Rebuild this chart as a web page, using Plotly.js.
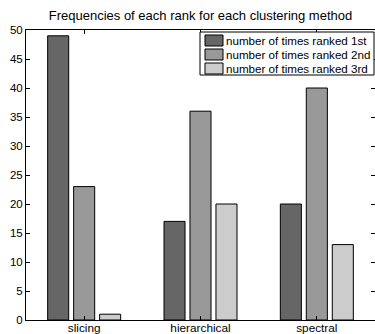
<!DOCTYPE html>
<html>
<head>
<meta charset="utf-8">
<script src="https://cdn.plot.ly/plotly-3.0.1.min.js"></script>
<style>
html,body{margin:0;padding:0;background:#fff;overflow:hidden;}
#chart{width:375px;height:334px;}
</style>
</head>
<body>
<div id="chart"></div>
<script>
const categories = ["slicing", "hierarchical", "spectral"];
const seriesNames = ["number of times ranked 1st", "number of times ranked 2nd", "number of times ranked 3rd"];
const rank1st = [49, 17, 20];
const rank2nd = [23, 36, 40];
const rank3rd = [1, 20, 13];
const seriesValues = [rank1st, rank2nd, rank3rd];
const seriesColors = ["#666666", "#999999", "#cccccc"];
const yTicks = [0, 5, 10, 15, 20, 25, 30, 35, 40, 45, 50];

const FONT = "Liberation Sans, Arial, Helvetica, sans-serif";

const traces = seriesValues.map((vals, i) => ({
  type: "bar",
  x: categories,
  y: vals,
  name: seriesNames[i],
  marker: {color: seriesColors[i], line: {color: "#000", width: 1}},
  showlegend: false,
  hoverinfo: "skip"
}));

// Plot area geometry (pixels) for custom legend placement
const L = 26, R = 375, T = 30, B = 320;
const W = R - L, H = B - T;
const px = v => (v - L) / W;
const py = v => (B - v) / H;

const shapes = [{
  type: "rect", xref: "paper", yref: "paper",
  x0: px(200), x1: px(374), y0: py(75), y1: py(32),
  fillcolor: "#fff", line: {color: "#000", width: 1}, layer: "above"
}];
const annotations = [];
const rowCenters = [40.5, 54.5, 68.5];
seriesNames.forEach((n, i) => {
  shapes.push({
    type: "rect", xref: "paper", yref: "paper",
    x0: px(205), x1: px(223), y0: py(rowCenters[i] + 5.5), y1: py(rowCenters[i] - 5.5),
    fillcolor: seriesColors[i], line: {color: "#000", width: 1}, layer: "above"
  });
  annotations.push({
    xref: "paper", yref: "paper", x: px(224), y: py(rowCenters[i]),
    xanchor: "left", yanchor: "middle", showarrow: false,
    text: n, font: {family: FONT, size: 11.6, color: "#000"}
  });
});

const layout = {
  width: 375, height: 334,
  margin: {l: L, r: 0, t: T, b: 334 - B, pad: 0},
  paper_bgcolor: "#fff", plot_bgcolor: "#fff",
  font: {family: FONT, size: 11.5, color: "#000"},
  title: {text: "Frequencies of each rank for each clustering method",
          font: {family: FONT, size: 13, color: "#000"},
          x: 0.5, xref: "paper", y: 1 - 15/334, yref: "container", yanchor: "middle"},
  barmode: "group",
  bargap: 0.33,
  bargroupgap: 0.19,
  showlegend: false,
  xaxis: {
    type: "category", categoryarray: categories,
    showline: true, linecolor: "#000", linewidth: 1, mirror: "ticks",
    ticks: "inside", ticklen: 4, tickcolor: "#000", tickwidth: 1,
    ticklabelstandoff: -3,
    showgrid: false, zeroline: false,
    tickfont: {family: FONT, size: 11.8, color: "#000"}
  },
  yaxis: {
    range: [0, 50], tickvals: yTicks, ticktext: yTicks.map(String),
    showline: true, linecolor: "#000", linewidth: 1, mirror: "ticks",
    ticks: "inside", ticklen: 4, tickcolor: "#000", tickwidth: 1,
    showgrid: false, zeroline: false,
    tickfont: {family: FONT, size: 11.5, color: "#000"}
  },
  shapes: shapes,
  annotations: annotations
};

Plotly.newPlot("chart", traces, layout, {staticPlot: true, displayModeBar: false});
</script>
</body>
</html>
